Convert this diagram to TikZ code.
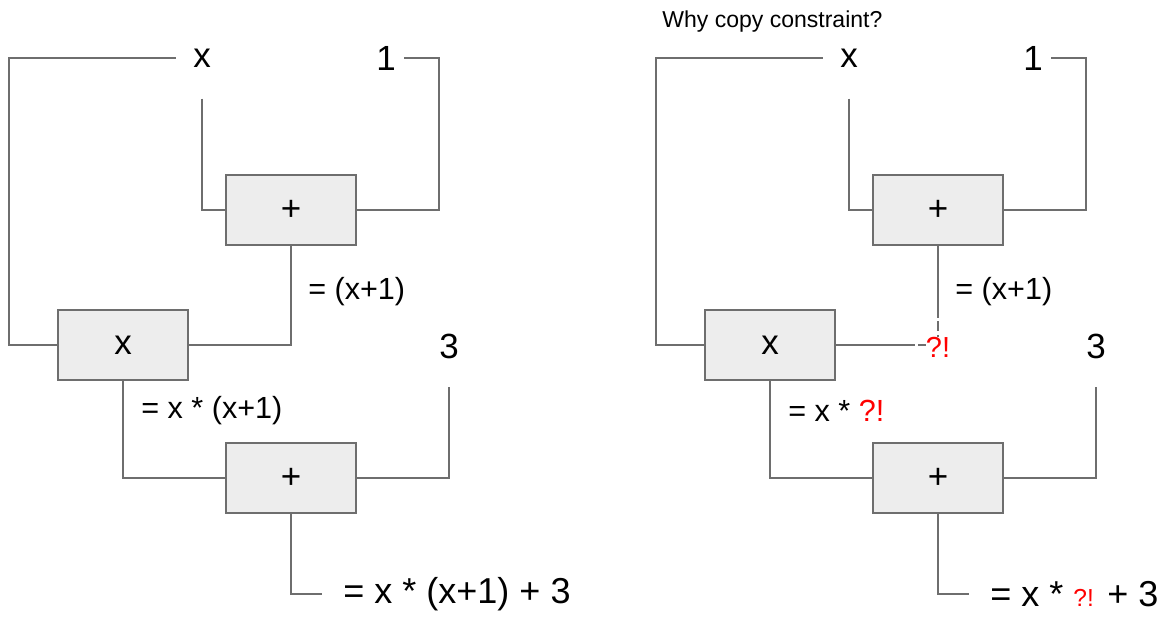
\documentclass[tikz,border=0pt]{standalone}
\usepackage{fontspec}
\setmainfont{Liberation Sans}
\usepackage{xcolor}
\usetikzlibrary{positioning, calc}

\definecolor{wiregray}{HTML}{6E6E6E}
\definecolor{gatefill}{HTML}{EDEDED}
\definecolor{oops}{HTML}{FF0000}

\tikzset{
  wire/.style={draw=wiregray, line width=1.1pt},
  broken/.style={wire, dash pattern=on 0.2cm off 0.07cm},
  gate/.style={draw=wiregray, fill=gatefill, line width=1.1pt,
    minimum width=2.6cm, minimum height=1.4cm, inner sep=0pt,
    font=\fontsize{19.9}{24}\selectfont},
  input/.style={inner sep=0pt, font=\fontsize{19.9}{24}\selectfont},
  eqn/.style={inner sep=0pt, anchor=west, font=\fontsize{17.4}{21}\selectfont},
  result/.style={inner sep=0pt, anchor=west, font=\fontsize{20.5}{25}\selectfont},
}

\begin{document}
\begin{tikzpicture}[x=0.02cm, y=-0.02cm]
  \useasboundingbox (0,0) rectangle (1165,616);

  % Left circuit: x*(x+1)+3
  \node[input] (x1) at (202,58) {x};
  \node[input] (one1) at (386,58) {1};
  \node[gate] (addA1) at (291,210) {+};
  \node[gate] (mul1) at (123,345) {x};
  \node[input] (three1) at (449,346) {3};
  \node[gate] (addB1) at (291,478) {+};
  \node[eqn] (sum1) at (308,292) {= (x+1)};
  \node[eqn] (prod1) at (141,411) {= x * (x+1)};
  \node[result] (res1) at (343,594) {= x * (x+1) + 3};

  \draw[wire, shorten <=0.34cm] (x1.west) -- ++(-184,0) |- (mul1.west);
  \draw[wire, shorten <=0.62cm] (x1.south) |- (addA1.west);
  \draw[wire, shorten <=0.16cm] (one1.east) -- ++(43,0) |- (addA1.east);
  \draw[wire] (addA1.south) |- (mul1.east);
  \draw[wire] (mul1.south) |- (addB1.west);
  \draw[wire, shorten <=0.57cm] (three1.south) |- (addB1.east);
  \draw[wire, shorten >=0.42cm] (addB1.south) |- (res1.west);

  % Right circuit: same gates, but the wire into x is not tied
  \node[anchor=base west, inner sep=0pt, font=\fontsize{13.1}{16}\selectfont]
    (why) at (662,27) {Why copy constraint?};
  \node[input] (x2) at (849,58) {x};
  \node[input] (one2) at (1033,58) {1};
  \node[gate] (addA2) at (938,210) {+};
  \node[gate] (mul2) at (770,345) {x};
  \node[input] (three2) at (1096,346) {3};
  \node[gate] (addB2) at (938,478) {+};
  \node[eqn] (sum2) at (955,292) {= (x+1)};
  \node[eqn] (prod2) at (788,411) {= x * \textcolor{oops}{?!}};
  \node[result] (res2) at (990,594)
    {= x * {\fontsize{14}{16}\selectfont\textcolor{oops}{?!}} + 3};
  \node[inner sep=0pt, text=oops, font=\fontsize{16.5}{19}\selectfont]
    (clash) at (938,347) {?!};

  \draw[wire, shorten <=0.34cm] (x2.west) -- ++(-184,0) |- (mul2.west);
  \draw[wire, shorten <=0.62cm] (x2.south) |- (addA2.west);
  \draw[wire, shorten <=0.16cm] (one2.east) -- ++(43,0) |- (addA2.east);
  \draw[wire] (addA2.south) -- ++(0,62) coordinate (cutA);
  \draw[broken] (cutA) -- (cutA |- clash.north);
  \draw[wire] (mul2.east) -- ++(69,0) coordinate (cutM);
  \draw[broken] (cutM) -- (cutM -| clash.west);
  \draw[wire] (mul2.south) |- (addB2.west);
  \draw[wire, shorten <=0.57cm] (three2.south) |- (addB2.east);
  \draw[wire, shorten >=0.42cm] (addB2.south) |- (res2.west);
\end{tikzpicture}
\end{document}
